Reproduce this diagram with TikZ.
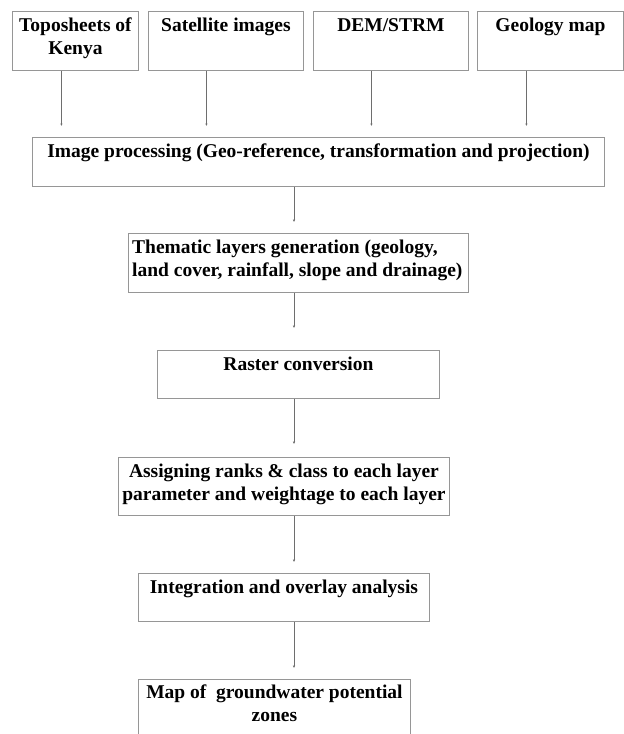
\documentclass[tikz,border=0pt]{standalone}
\usepackage{fontspec}
\setmainfont{Liberation Serif}
\usetikzlibrary{arrows.meta}
\definecolor{boxgray}{RGB}{150,150,150}
\definecolor{arrgray}{RGB}{110,110,110}
\begin{document}
\begin{tikzpicture}[x=1pt,y=1pt,
  box/.style={draw=boxgray, line width=0.9pt, fill=white, inner sep=0, anchor=north west},
  lbl/.style={anchor=north, inner sep=0, align=center, text=black,
    font=\fontsize{19.5}{23}\selectfont\bfseries},
  arr/.style={draw=arrgray, line width=0.7pt, -{Latex[length=2.5pt,width=2.5pt]}}]
\clip (0,0) rectangle (624,-734);
\fill[white] (0,0) rectangle (624,-734);
% top boxes
\node[box, minimum width=126, minimum height=59] (t1) at (12,-11) {};
\node[box, minimum width=155, minimum height=59] (t2) at (148,-11) {};
\node[box, minimum width=155, minimum height=59] (t3) at (313,-11) {};
\node[box, minimum width=146, minimum height=59] (t4) at (477,-11) {};
\node[lbl] (t1l) at (t1.north) {\rule{0pt}{20pt}Toposheets of\\Kenya};
\node[lbl] (t2l) at (t2.north) {\rule{0pt}{20pt}Satellite images};
\node[lbl] (t3l) at (t3.north) {\rule{0pt}{20pt}DEM/STRM};
\node[lbl] (t4l) at (t4.north) {\rule{0pt}{20pt}Geology map};
% process boxes
\node[box, minimum width=572, minimum height=49] (ip) at (32,-137) {};
\node[lbl] (ipl) at (ip.north) {\rule{0pt}{20pt}Image processing (Geo-reference, transformation and projection)};
\node[box, minimum width=340, minimum height=59] (th) at (128,-233) {};
\node[lbl, anchor=north west, align=left] (thl) at ([xshift=4pt]th.north west) {\rule{0pt}{20pt}Thematic layers generation (geology,\\land cover, rainfall, slope and drainage)};
\node[box, minimum width=282, minimum height=48] (rc) at (157,-350) {};
\node[lbl] (rcl) at (rc.north) {\rule{0pt}{20pt}Raster conversion};
\node[box, minimum width=331, minimum height=58] (as) at (118,-457) {};
\node[lbl] (asl) at (as.north) {\rule{0pt}{20pt}Assigning ranks \& class to each layer\\parameter and weightage to each layer};
\node[box, minimum width=291, minimum height=48] (in) at (138,-573) {};
\node[lbl] (inl) at (in.north) {\rule{0pt}{20pt}Integration and overlay analysis};
\node[box, minimum width=272, minimum height=70] (mp) at (138,-679) {};
\node[lbl] (mpl) at (mp.north) {\rule{0pt}{19pt}Map of\ \ groundwater potential\\zones};
% connectors
\coordinate (a1) at ([xshift=-14]t1.south);
\coordinate (a2) at ([xshift=-19.5]t2.south);
\coordinate (a3) at ([xshift=-19.5]t3.south);
\coordinate (a4) at ([xshift=-24]t4.south);
\foreach \a in {a1,a2,a3,a4}
  \draw[arr, shorten >=11pt] (\a) -- (\a |- ip.north);
\coordinate (ax) at (294,0);
\draw[arr, shorten >=11pt] (ip.south -| ax) -- (th.north -| ax);
\draw[arr, shorten >=22pt] (th.south -| ax) -- (rc.north -| ax);
\draw[arr, shorten >=13pt] (rc.south -| ax) -- (as.north -| ax);
\draw[arr, shorten >=11pt] (as.south -| ax) -- (in.north -| ax);
\draw[arr, shorten >=11pt] (in.south -| ax) -- (mp.north -| ax);
\end{tikzpicture}
\end{document}
